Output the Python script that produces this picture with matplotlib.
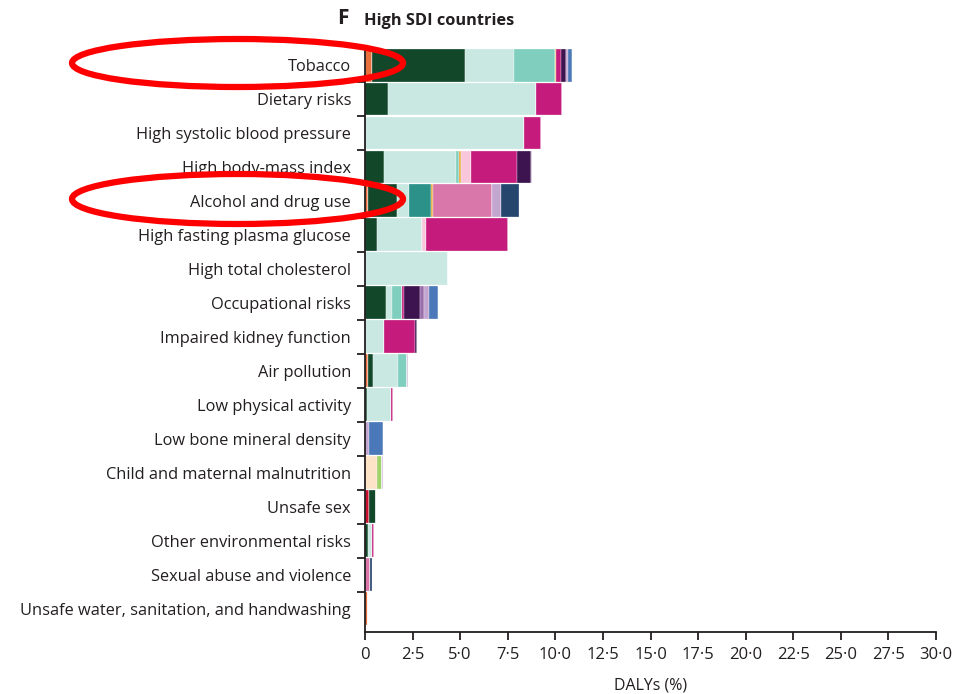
import matplotlib
matplotlib.use("Agg")
import matplotlib.pyplot as plt
from matplotlib.patches import Ellipse
import numpy as np

# ----------------------------
# Data (DALYs %)
# ----------------------------
risks = ["Tobacco", "Dietary risks", "High systolic blood pressure",
         "High body-mass index", "Alcohol and drug use",
         "High fasting plasma glucose", "High total cholesterol",
         "Occupational risks", "Impaired kidney function", "Air pollution",
         "Low physical activity", "Low bone mineral density",
         "Child and maternal malnutrition", "Unsafe sex",
         "Other environmental risks", "Sexual abuse and violence",
         "Unsafe water, sanitation, and handwashing"]

# one list per cause group, same order as risks
resp_inf     = [0.38, 0, 0, 0, 0.17, 0, 0, 0, 0, 0.15, 0, 0, 0, 0, 0, 0, 0.16]
hiv_sti      = [0, 0, 0, 0, 0, 0, 0, 0, 0, 0, 0, 0, 0, 0.20, 0, 0, 0]
maternal     = [0, 0, 0, 0, 0, 0, 0, 0, 0, 0, 0, 0, 0.61, 0, 0, 0, 0]
nutritional  = [0, 0, 0, 0, 0, 0, 0, 0, 0, 0, 0, 0, 0.27, 0, 0, 0, 0]
neoplasms    = [4.87, 1.23, 0, 1.00, 1.53, 0.61, 0, 1.09, 0, 0.29, 0.12, 0, 0, 0.36, 0.17, 0, 0]
cardio       = [2.58, 7.74, 8.37, 3.76, 0.63, 2.37, 4.38, 0.35, 1.02, 1.31, 1.25, 0, 0, 0, 0.18, 0, 0]
chronic_resp = [2.17, 0, 0, 0.18, 0, 0, 0, 0.49, 0, 0.44, 0, 0, 0, 0, 0, 0, 0]
digestive    = [0, 0, 0, 0, 1.14, 0, 0, 0, 0, 0, 0, 0, 0, 0, 0, 0, 0]
other_cause  = [0.06, 0, 0, 0.09, 0.09, 0, 0, 0, 0, 0, 0, 0, 0, 0, 0, 0, 0]
neuro        = [0, 0, 0, 0.52, 0, 0.22, 0, 0, 0, 0, 0, 0, 0, 0, 0, 0, 0]
mental_subst = [0, 0, 0, 0, 3.10, 0, 0, 0, 0, 0, 0, 0, 0, 0, 0, 0.26, 0]
diab_kidney  = [0.26, 1.40, 0.88, 2.42, 0, 4.30, 0, 0.14, 1.61, 0, 0.12, 0, 0, 0, 0.11, 0, 0]
musculo      = [0.23, 0, 0, 0.75, 0, 0, 0, 0.82, 0.12, 0, 0, 0, 0, 0, 0, 0, 0]
other_ncd    = [0, 0, 0, 0, 0, 0, 0, 0.23, 0, 0, 0, 0, 0, 0, 0, 0, 0]
transport    = [0.10, 0, 0, 0.05, 0.49, 0, 0, 0.25, 0, 0.09, 0, 0.20, 0.09, 0, 0, 0, 0]
unintent     = [0.22, 0, 0, 0, 0, 0, 0, 0.45, 0, 0, 0, 0.72, 0, 0, 0, 0, 0]
self_harm    = [0, 0, 0, 0, 0.96, 0, 0, 0, 0, 0, 0, 0, 0, 0, 0, 0.12, 0]

series = [resp_inf, hiv_sti, maternal, nutritional, neoplasms, cardio,
          chronic_resp, digestive, other_cause, neuro, mental_subst,
          diab_kidney, musculo, other_ncd, transport, unintent, self_harm]
colours = ["#e8703c", "#c8102e", "#fde3c8", "#a2d26c", "#12472a", "#c9e8e2",
           "#80cfbe", "#2b9189", "#e8a93a", "#f9c6dc", "#d977ab",
           "#c51b7d", "#3e1450", "#9b6fac", "#c3a6d0", "#4a78b8", "#26466e"]

xticks = np.arange(0, 30.01, 2.5)
xticklabels = ["0"] + [f"{v:.1f}".replace(".", "\u00b7") for v in xticks[1:]]

# ----------------------------
# Plot
# ----------------------------
plt.rcParams["font.family"] = ["Open Sans", "DejaVu Sans"]

fig = plt.figure(figsize=(9.55, 6.94), dpi=100)
ax = fig.add_axes([365 / 955, 1 - 632 / 694, (936 - 365) / 955, (632 - 47) / 694])

y = np.arange(len(risks))
left = np.zeros(len(risks))
for vals, col in zip(series, colours):
    vals = np.array(vals)
    ax.barh(y, vals, left=left, height=0.97, color=col,
            edgecolor="white", linewidth=0.2)
    left += vals

ax.set_ylim(16.68, -0.53)
ax.set_xlim(0, 30)
ax.set_yticks(y)
ax.set_yticklabels(risks, fontsize=11.8, color="#231f20")
ax.set_yticks(np.arange(0.5, 16, 1), minor=True)
ax.tick_params(axis="y", which="major", length=0, pad=10)
ax.tick_params(axis="y", which="minor", length=6, width=1.3, color="#231f20")
ax.set_xticks(xticks)
ax.set_xticklabels(xticklabels, fontsize=12, color="#231f20")
ax.tick_params(axis="x", length=6, width=1.3, color="#231f20", pad=5)
ax.set_xlabel("DALYs (%)", fontsize=11.5, color="#231f20", labelpad=10)

for s in ["top", "right"]:
    ax.spines[s].set_visible(False)
for s in ["left", "bottom"]:
    ax.spines[s].set_linewidth(1.3)
    ax.spines[s].set_color("#231f20")

fig.text(337 / 955, 1 - 19 / 694, "F", fontsize=15, fontweight="bold",
         va="center", color="#231f20")
fig.text(364 / 955, 1 - 21 / 694, "High SDI countries", fontsize=11.8,
         fontweight="bold", va="center", color="#231f20")

# red annotation ellipses
over = fig.add_axes([0, 0, 1, 1], facecolor="none")
over.set_xlim(0, 955)
over.set_ylim(694, 0)
over.axis("off")
over.add_patch(Ellipse((237.5, 63), 331, 48, fill=False, edgecolor="#ff0000", linewidth=4.5))
over.add_patch(Ellipse((237.5, 199), 331, 50, fill=False, edgecolor="#ff0000", linewidth=4.5))

fig.savefig("out.png", dpi=100)
